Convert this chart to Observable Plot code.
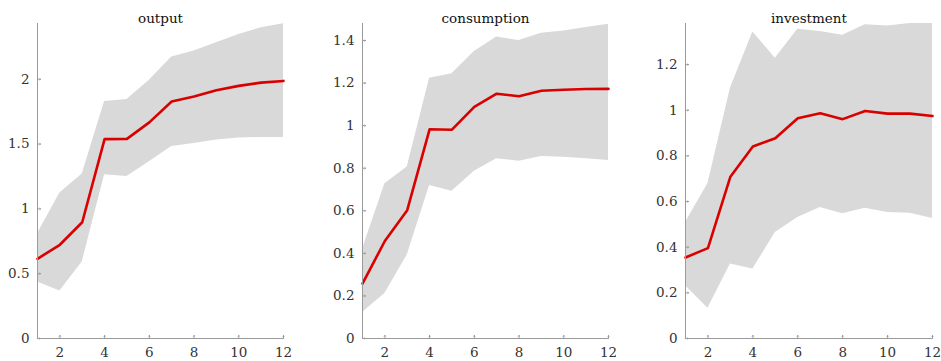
<!DOCTYPE html>
<html>
<head>
<meta charset="utf-8">
<script src="https://cdn.jsdelivr.net/npm/d3@7"></script>
<script src="https://cdn.jsdelivr.net/npm/@observablehq/plot@0.6"></script>
<style>
  html, body { margin: 0; padding: 0; background: #fff; }
  #wrap { position: relative; width: 941px; height: 361px; }
  #wrap > div { position: absolute; top: 0; }
  #wrap svg text { font-family: "DejaVu Serif", "Liberation Serif", serif !important; }
</style>
</head>
<body>
<div id="wrap"></div>
<script>
const horizon = [1,2,3,4,5,6,7,8,9,10,11,12];
const titles = ["output", "consumption", "investment"];

const outputMean  = [0.615,0.723,0.897,1.538,1.540,1.667,1.828,1.867,1.915,1.949,1.974,1.987];
const outputUpper = [0.808,1.123,1.269,1.828,1.844,1.992,2.172,2.218,2.282,2.346,2.397,2.428];
const outputLower = [0.436,0.367,0.590,1.264,1.249,1.364,1.482,1.505,1.531,1.546,1.551,1.551];

const consMean  = [0.258,0.458,0.603,0.983,0.981,1.088,1.150,1.138,1.164,1.169,1.172,1.173];
const consUpper = [0.419,0.727,0.806,1.223,1.244,1.348,1.416,1.400,1.434,1.445,1.461,1.477];
const consLower = [0.122,0.211,0.392,0.719,0.692,0.786,0.845,0.833,0.855,0.852,0.844,0.836];

const invMean  = [0.355,0.396,0.709,0.841,0.877,0.965,0.987,0.961,0.997,0.985,0.985,0.975];
const invUpper = [0.508,0.679,1.096,1.343,1.228,1.355,1.345,1.328,1.374,1.369,1.380,1.380];
const invLower = [0.231,0.133,0.326,0.304,0.464,0.530,0.574,0.547,0.571,0.552,0.549,0.526];

const xTicks = [2,4,6,8,10,12];
const outputTicks = [0,0.5,1,1.5,2];
const consTicks = [0,0.2,0.4,0.6,0.8,1,1.2,1.4];
const invTicks = [0,0.2,0.4,0.6,0.8,1,1.2];
const yMax = [2.43, 1.48, 1.38];

const panels = [
  {title: titles[0], mean: outputMean, lo: outputLower, hi: outputUpper, ticks: outputTicks, ymax: yMax[0]},
  {title: titles[1], mean: consMean,  lo: consLower,  hi: consUpper,  ticks: consTicks,  ymax: yMax[1]},
  {title: titles[2], mean: invMean,   lo: invLower,   hi: invUpper,   ticks: invTicks,   ymax: yMax[2]}
];
const layout = [
  {left: 0,   ml: 37, width: 292},
  {left: 324, ml: 38, width: 292},
  {left: 647, ml: 38, width: 294}
];

const font = "'DejaVu Serif', serif";
const axisColor = "#9a9a9a";
const textColor = "#333";
const wrap = document.getElementById("wrap");

panels.forEach((p, i) => {
  const L = layout[i];
  const plotW = i === 2 ? 247 : 246;
  const mr = L.width - L.ml - plotW;
  const rows = horizon.map((h, k) => ({h, m: p.mean[k], lo: p.lo[k], hi: p.hi[k]}));
  const fmt = d => String(d);
  const chart = Plot.plot({
    width: L.width,
    height: 361,
    marginLeft: L.ml,
    marginRight: mr,
    marginTop: 23,
    marginBottom: 23,
    style: {fontFamily: font, fontSize: "13.5px", color: textColor, background: "#fff"},
    x: {domain: [1, 12], label: null},
    y: {domain: [0, p.ymax], label: null},
    marks: [
      Plot.areaY(rows, {x: "h", y1: "lo", y2: "hi", fill: "#d9d9d9", curve: "linear"}),
      Plot.line(rows, {x: "h", y: "m", stroke: "#d90000", strokeWidth: 2.6, curve: "linear"}),
      Plot.ruleY([0], {stroke: axisColor, strokeWidth: 1}),
      Plot.ruleX([1], {stroke: axisColor, strokeWidth: 1}),
      Plot.vector(xTicks, {x: d => d, y: 0, length: 3, rotate: 0, anchor: "start", stroke: axisColor, strokeWidth: 1}),
      Plot.vector(p.ticks, {x: 1, y: d => d, length: 3, rotate: 90, anchor: "start", stroke: axisColor, strokeWidth: 1}),
      Plot.axisX(xTicks, {tickSize: 0, tickPadding: 9, tickFormat: fmt, label: null, fill: textColor, fontSize: 13.5, fontFamily: font}),
      Plot.axisY(p.ticks, {tickSize: 0, tickPadding: 8, tickFormat: fmt, label: null, fill: textColor, fontSize: 13.5, fontFamily: font}),
      Plot.text([p.title], {frameAnchor: "top", dy: -10, text: d => d, fill: "#111", fontSize: 13.5, fontFamily: font})
    ]
  });
  const holder = document.createElement("div");
  holder.style.left = L.left + "px";
  holder.appendChild(chart);
  wrap.appendChild(holder);
});
</script>
</body>
</html>
